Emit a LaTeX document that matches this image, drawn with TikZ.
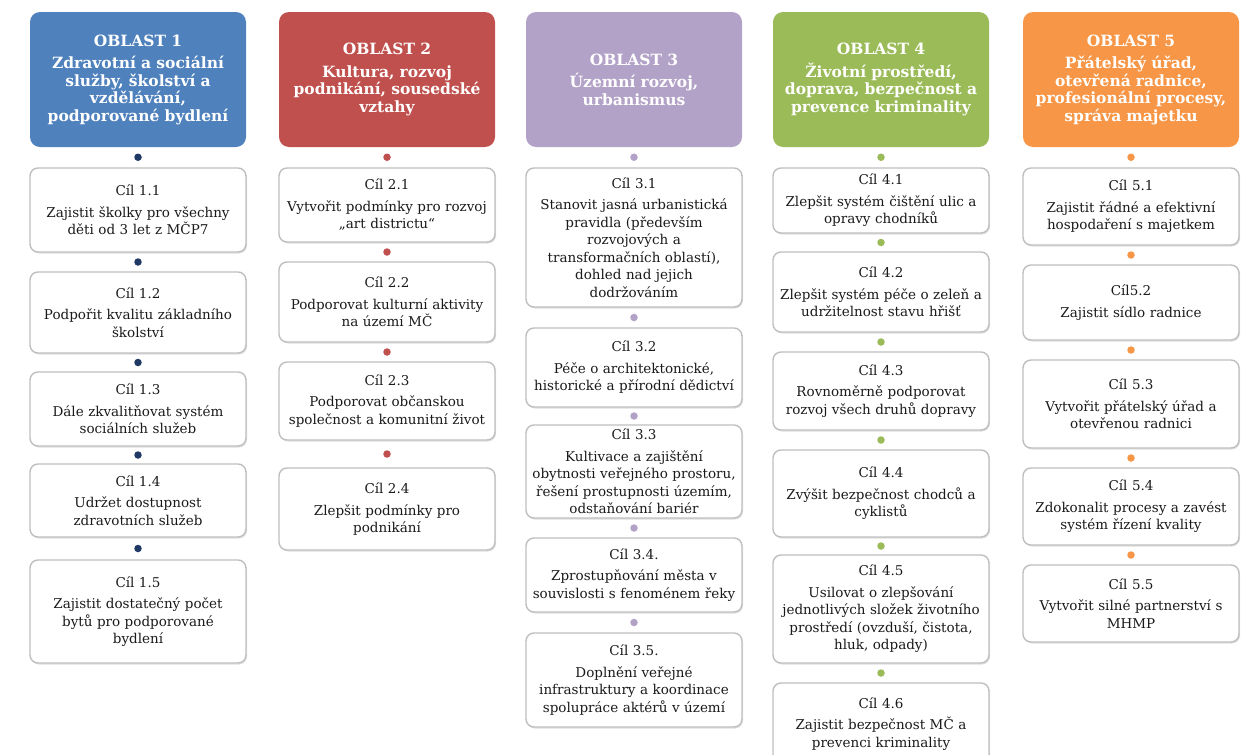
\documentclass[tikz,border=0pt]{standalone}
\usepackage{fontspec}
\setmainfont{DejaVu Serif}
\usetikzlibrary{shadows}

\definecolor{navy}{HTML}{1F3864}
\definecolor{oblastA}{HTML}{4F81BD}
\definecolor{oblastB}{HTML}{C0504D}
\definecolor{oblastC}{HTML}{B3A2C7}
\definecolor{oblastD}{HTML}{9BBB59}
\definecolor{oblastE}{HTML}{F79646}
\definecolor{rim}{HTML}{BFBFBF}
\definecolor{ink}{HTML}{1A1A1A}

\begin{document}
\begin{tikzpicture}[x=1pt, y=-1pt,
  oblast/.style={fill=#1, rounded corners=10pt, minimum width=216pt, minimum height=135pt,
    text width=210pt, inner sep=2pt, align=center, text=white, font=\fontsize{15.5}{17.5}\selectfont\bfseries},
  goal/.style={draw=rim, line width=1.4pt, fill=white, rounded corners=8pt, minimum width=216pt,
    text width=212pt, inner sep=2pt, align=center, text=ink, font=\fontsize{13.5}{17.5}\selectfont,
    drop shadow={opacity=0.25, shadow xshift=1pt, shadow yshift=-1.5pt}},
  link/.style={circle, fill=#1, inner sep=0pt, minimum size=7.5pt}]
\useasboundingbox (0,0) rectangle (1243,755);

% oblast 1
\node[oblast=oblastA] (h1) at (138,79.5) {OBLAST 1\\[5pt]Zdravotní a sociální\\služby, školství a\\vzdělávání,\\podporované bydlení};
\node[goal, minimum height=84pt] (c11) at (138,210) {Cíl 1.1\\[4pt]Zajistit školky pro všechny\\děti od 3 let z MČP7};
\node[goal, minimum height=81pt] (c12) at (138,312.5) {Cíl 1.2\\[4pt]Podpořit kvalitu základního\\školství};
\node[goal, minimum height=74pt] (c13) at (138,409) {Cíl 1.3\\[4pt]Dále zkvalitňovat systém\\sociálních služeb};
\node[goal, minimum height=73pt] (c14) at (138,500.5) {Cíl 1.4\\[4pt]Udržet dostupnost\\zdravotních služeb};
\node[goal, minimum height=103pt] (c15) at (138,611.5) {Cíl 1.5\\[4pt]Zajistit dostatečný počet\\bytů pro podporované\\bydlení};
\foreach \a/\b in {h1/c11, c11/c12, c12/c13, c13/c14, c14/c15}
  \path (\a) -- (\b) node[midway, link=navy] {};

% oblast 2
\node[oblast=oblastB] (h2) at (387,79.5) {OBLAST 2\\[5pt]Kultura, rozvoj\\podnikání, sousedské\\vztahy};
\node[goal, minimum height=74pt] (c21) at (387,205) {Cíl 2.1\\[4pt]Vytvořit podmínky pro rozvoj\\„art districtu“};
\node[goal, minimum height=80pt] (c22) at (387,302) {Cíl 2.2\\[4pt]Podporovat kulturní aktivity\\na území MČ};
\node[goal, minimum height=78pt] (c23) at (387,401) {Cíl 2.3\\[4pt]Podporovat občanskou\\společnost a komunitní život};
\node[goal, minimum height=82pt] (c24) at (387,509) {Cíl 2.4\\[4pt]Zlepšit podmínky pro\\podnikání};
\foreach \a/\b in {h2/c21, c21/c22, c22/c23, c23/c24}
  \path (\a) -- (\b) node[midway, link=oblastB] {};

% oblast 3
\node[oblast=oblastC] (h3) at (634,79.5) {OBLAST 3\\[5pt]Územní rozvoj,\\urbanismus};
\node[goal, minimum height=139pt] (c31) at (634,237.5) {Cíl 3.1\\[4pt]Stanovit jasná urbanistická\\pravidla (především\\rozvojových a\\transformačních oblastí),\\dohled nad jejich\\dodržováním};
\node[goal, minimum height=79pt] (c32) at (634,367.5) {Cíl 3.2\\[4pt]Péče o architektonické,\\historické a přírodní dědictví};
\node[goal, minimum height=93pt] (c33) at (634,471.5) {Cíl 3.3\\[4pt]Kultivace a zajištění\\obytnosti veřejného prostoru,\\řešení prostupnosti územím,\\odstaňování bariér};
\node[goal, minimum height=74pt] (c34) at (634,575) {Cíl 3.4.\\[4pt]Zprostupňování města v\\souvislosti s fenoménem řeky};
\node[goal, minimum height=94pt] (c35) at (634,680) {Cíl 3.5.\\[4pt]Doplnění veřejné\\infrastruktury a koordinace\\spolupráce aktérů v území};
\foreach \a/\b in {h3/c31, c31/c32, c32/c33, c33/c34, c34/c35}
  \path (\a) -- (\b) node[midway, link=oblastC] {};

% oblast 4
\node[oblast=oblastD] (h4) at (881,79.5) {OBLAST 4\\[5pt]Životní prostředí,\\doprava, bezpečnost a\\prevence kriminality};
\node[goal, minimum height=65pt] (c41) at (881,200.5) {Cíl 4.1\\[4pt]Zlepšit systém čištění ulic a\\opravy chodníků};
\node[goal, minimum height=80pt] (c42) at (881,292) {Cíl 4.2\\[4pt]Zlepšit systém péče o zeleň a\\udržitelnost stavu hřišť};
\node[goal, minimum height=78pt] (c43) at (881,391) {Cíl 4.3\\[4pt]Rovnoměrně podporovat\\rozvoj všech druhů dopravy};
\node[goal, minimum height=87pt] (c44) at (881,493.5) {Cíl 4.4\\[4pt]Zvýšit bezpečnost chodců a\\cyklistů};
\node[goal, minimum height=108pt] (c45) at (881,609) {Cíl 4.5\\[4pt]Usilovat o zlepšování\\jednotlivých složek životního\\prostředí (ovzduší, čistota,\\hluk, odpady)};
\node[goal, minimum height=82pt] (c46) at (881,724) {Cíl 4.6\\[4pt]Zajistit bezpečnost MČ a\\prevenci kriminality};
\foreach \a/\b in {h4/c41, c41/c42, c42/c43, c43/c44, c44/c45, c45/c46}
  \path (\a) -- (\b) node[midway, link=oblastD] {};

% oblast 5
\node[oblast=oblastE] (h5) at (1131,79.5) {OBLAST 5\\[5pt]Přátelský úřad,\\otevřená radnice,\\profesionální procesy,\\správa majetku};
\node[goal, minimum height=77pt] (c51) at (1131,206.5) {Cíl 5.1\\[4pt]Zajistit řádné a efektivní\\hospodaření s majetkem};
\node[goal, minimum height=75pt] (c52) at (1131,302.5) {Cíl5.2\\[4pt]Zajistit sídlo radnice};
\node[goal, minimum height=88pt] (c53) at (1131,404) {Cíl 5.3\\[4pt]Vytvořit přátelský úřad a\\otevřenou radnici};
\node[goal, minimum height=77pt] (c54) at (1131,506.5) {Cíl 5.4\\[4pt]Zdokonalit procesy a zavést\\systém řízení kvality};
\node[goal, minimum height=77pt] (c55) at (1131,603.5) {Cíl 5.5\\[4pt]Vytvořit silné partnerství s\\MHMP};
\foreach \a/\b in {h5/c51, c51/c52, c52/c53, c53/c54, c54/c55}
  \path (\a) -- (\b) node[midway, link=oblastE] {};
\end{tikzpicture}
\end{document}
